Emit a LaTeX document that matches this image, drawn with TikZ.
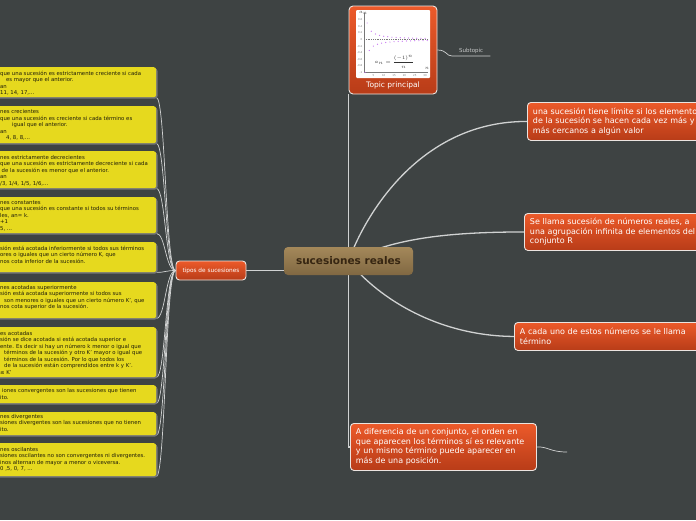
\documentclass[tikz,border=0pt]{standalone}
\usepackage{fontspec}
\setmainfont{DejaVu Sans}
\usetikzlibrary{shadows}
\definecolor{bg}{RGB}{62,67,67}
\definecolor{conn}{RGB}{208,210,210}
\definecolor{ytxt}{RGB}{30,28,10}
\definecolor{yfill}{RGB}{230,217,30}
\definecolor{yshadow}{RGB}{118,120,120}
\definecolor{ortop}{RGB}{236,90,42}
\definecolor{orbot}{RGB}{184,60,24}
\definecolor{oline}{RGB}{235,228,224}
\definecolor{brtop}{RGB}{164,136,90}
\definecolor{brbot}{RGB}{128,104,66}
\definecolor{brtxt}{RGB}{55,38,18}
\definecolor{ptcol}{RGB}{195,110,240}
\definecolor{subtxt}{RGB}{200,202,202}
\definecolor{axcol}{RGB}{120,120,120}
\pgfdeclarelayer{bgl}
\pgfsetlayers{bgl,main}
\tikzset{
  ybox/.style={fill=yfill, rounded corners=2.5pt, inner sep=0pt, anchor=north west,
    drop shadow={shadow xshift=1.3pt, shadow yshift=-1.3pt, fill=yshadow, opacity=1}},
  ytext/.style={anchor=north west, inner sep=0pt, align=left, text=ytxt,
    font=\fontsize{5.35}{6.5}\selectfont},
  obox/.style={top color=ortop, bottom color=orbot, draw=oline, line width=0.9pt, rounded corners=3.5pt},
  rbox/.style={obox, anchor=north west, inner xsep=5.5pt, inner ysep=0pt, align=left, text=white,
    font=\fontsize{8}{9.5}\selectfont},
  link/.style={draw=conn, line width=1.3pt},
  thinlink/.style={draw=conn, line width=0.7pt},
  ticklab/.style={inner sep=0pt, text=axcol, font=\fontsize{2.6}{3}\selectfont},
}
\begin{document}
\begin{tikzpicture}[x=1pt,y=-1pt]
\begin{pgfonlayer}{bgl}
\fill[bg] (0,0) rectangle (696,520);
\end{pgfonlayer}
\path[use as bounding box, clip] (0,0) rectangle (696,520);

% yellow boxes
\node[ybox, minimum width=176pt, minimum height=30pt] (yb1) at (-20,67) {};
\node[ybox, minimum width=176pt, minimum height=37pt] (yb2) at (-20,106) {};
\node[ybox, minimum width=176pt, minimum height=37pt] (yb3) at (-20,151) {};
\node[ybox, minimum width=176pt, minimum height=36pt] (yb4) at (-20,197) {};
\node[ybox, minimum width=176pt, minimum height=30pt] (yb5) at (-20,242) {};
\node[ybox, minimum width=176pt, minimum height=36pt] (yb6) at (-20,282) {};
\node[ybox, minimum width=176pt, minimum height=50pt] (yb7) at (-20,327) {};
\node[ybox, minimum width=176pt, minimum height=18pt] (yb8) at (-20,385) {};
\node[ybox, minimum width=176pt, minimum height=23pt] (yb9) at (-20,412) {};
\node[ybox, minimum width=176pt, minimum height=33pt] (yb10) at (-20,443) {};

\node[ytext] (yt1) at (0,70.8) {que una sucesión es estrictamente creciente si cada\\\hspace*{6pt}es mayor que el anterior.\\an\\11, 14, 17,...};
\node[ytext] (yt2) at (0,109.5) {nes crecientes\\que una sucesión es creciente si cada término es\\\hspace*{12pt}igual que el anterior.\\an\\\hspace*{6pt}4, 8, 8,...};
\node[ytext] (yt3) at (0,154.8) {nes estrictamente decrecientes\\que una sucesión es estrictamente decreciente si cada\\\hspace*{1.5pt}de la sucesión es menor que el anterior.\\an\\/3, 1/4, 1/5, 1/6,...};
\node[ytext] (yt4) at (0,200.2) {nes constantes\\que una sucesión es constante si todos su términos\\les, an= k.\\+1\\5, ...};
\node[ytext] (yt5) at (0,245.8) {sión está acotada inferiormente si todos sus términos\\ores o iguales que un cierto número K, que\\nos cota inferior de la sucesión.};
\node[ytext] (yt6) at (0,284.8) {nes acotadas superiormente\\sión está acotada superiormente si todos sus\\\hspace*{4pt}son menores o iguales que un cierto número K', que\\nos cota superior de la sucesión.};
\node[ytext] (yt7) at (0,330.8) {es acotadas\\sión se dice acotada si está acotada superior e\\ente. Es decir si hay un número k menor o igual que\\\hspace*{4pt}términos de la sucesión y otro K' mayor o igual que\\\hspace*{4pt}términos de la sucesión. Por lo que todos los\\\hspace*{4pt}de la sucesión están comprendidos entre k y K'.\\≤ K'};
\node[ytext] (yt8) at (0,388.5) {\hspace*{2pt}iones convergentes son las sucesiones que tienen\\ito.};
\node[ytext] (yt9) at (0,414.2) {nes divergentes\\siones divergentes son las sucesiones que no tienen\\ito.};
\node[ytext] (yt10) at (0,446.8) {nes oscilantes\\siones oscilantes no son convergentes ni divergentes.\\inos alternan de mayor a menor o viceversa.\\0 ,5, 0, 7, ...};

% tipos
\node[obox, minimum width=70pt, minimum height=19pt, inner sep=0pt, text=white,
  font=\fontsize{5.8}{7}\selectfont] (tipos) at (211,270.5) {tipos de sucesiones};

% central
\node[top color=brtop, bottom color=brbot, rounded corners=4pt, minimum width=129pt,
  minimum height=28pt, inner sep=0pt, text=brtxt, font=\bfseries\fontsize{10.5}{12}\selectfont]
  (central) at (348.5,261) {sucesiones reales};

% topic
\node[obox, minimum width=88pt, minimum height=88pt, rounded corners=4pt] (topic) at (393,50) {};
\node[fill=white, rounded corners=1pt, minimum width=74pt, minimum height=68pt, inner sep=0pt] (img) at (393,44) {};
\node[inner sep=0pt, text=white, font=\fontsize{7.5}{9}\selectfont] (tlab) at (393,85.5) {Topic principal};
\draw[axcol, line width=0.3pt] (364,13) -- (364,72) -- (428,72);
\draw[axcol, line width=0.3pt, dash pattern=on 1pt off 0.8pt] (364,39.5) -- (428,39.5);
\foreach \v [count=\i] in {0.6,0.4,0.2,0,-0.2,-0.4,-0.6,-0.8,-1}
  \node[ticklab, anchor=east] (yl\i) at (362.5,{39.5-33*\v}) {\v};
\foreach \n [count=\i] in {5,10,15,20,25,30}
  \node[ticklab] (xl\i) at ({363+2.07*\n},75.4) {\n};
\foreach \n in {1,...,31}
  \fill[ptcol] ({363+2.07*\n},{39.5-33*(1-2*mod(\n,2))/\n}) circle (0.6);
\node[inner sep=0pt, text=axcol!60!black, font=\fontsize{3.5}{4}\selectfont] (anl) at (363.5,12.5) {$a_n$};
\node[inner sep=0pt, text=axcol!60!black, font=\fontsize{3.5}{4}\selectfont] (nl) at (427,68.5) {$n$};
\node[inner sep=0pt, text=black!80, font=\fontsize{5}{6}\selectfont] (form) at (394.5,62) {$a_n=\displaystyle\frac{(-1)^n}{n}$};

% subtopic
\node[anchor=south west, minimum width=38pt, inner xsep=0pt, inner ysep=2.5pt, text height=4pt,
  text depth=1pt, text=subtxt, font=\fontsize{5.5}{6}\selectfont] (sub) at (452,56) {Subtopic};

% right nodes
\node[rbox, text width=182pt, minimum height=38pt] (na) at (527,102)
  {una sucesión tiene límite si los elementos\\de la sucesión se hacen cada vez más y\\más cercanos a algún valor};
\node[rbox, text width=185pt, minimum height=37pt] (nb) at (524,213)
  {Se llama sucesión de números reales, a\\una agrupación infinita de elementos del\\conjunto R};
\node[rbox, text width=195pt, minimum height=28pt] (nc) at (514,322)
  {A cada uno de estos números se le llama\\término};
\node[rbox, text width=175pt, minimum height=47pt] (nd) at (350,423)
  {A diferencia de un conjunto, el orden en\\que aparecen los términos sí es relevante\\y un mismo término puede aparecer en\\más de una posición.};
\coordinate (dend) at (567,452);

% connectors
\begin{pgfonlayer}{bgl}
\foreach \b in {yb1,yb2,yb3,yb4,yb5,yb6,yb7,yb8,yb9,yb10}
  \draw[thinlink] (tipos.west) .. controls +(-10,0) and +(9,0) .. (\b.south east);
\draw[link, line width=1pt] (tipos.east) -- (central.west |- tipos.east);
\draw[link] (central.center) -- (central.center |- topic.south);
\draw[link] (central.center) -- (central.center |- nd.west) -- (nd.west);
\draw[link] (central.center) .. controls (365,215) and (420,121) .. (na.west);
\draw[link] (central.center) .. controls (390,240) and (440,232) .. (nb.west);
\draw[link] (central.center) .. controls (380,300) and (440,336) .. (nc.west);
\draw[thinlink] (topic.east) .. controls (447,50) and (446,56) .. (sub.south west) -- (sub.south east);
\draw[thinlink] (nd.east) .. controls (548,446.5) and (550,452) .. (dend);
\end{pgfonlayer}
\end{tikzpicture}
\end{document}
